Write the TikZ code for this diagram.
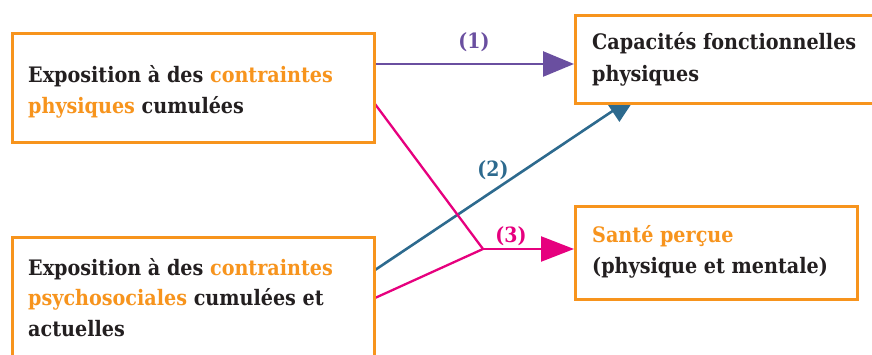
\documentclass[tikz,border=0pt]{standalone}
\usepackage{fontspec}
\setmainfont{DejaVu Serif Condensed}
\usetikzlibrary{arrows.meta}
\definecolor{orng}{HTML}{F7941D}
\definecolor{txt}{HTML}{231F20}
\definecolor{purp}{HTML}{6A4FA0}
\definecolor{blu}{HTML}{2D6A8E}
\definecolor{pnk}{HTML}{E6007E}
\tikzset{
  box/.style={draw=orng, line width=2.6pt, fill=white, anchor=north west, inner sep=0pt},
  line/.style={anchor=base west, inner sep=0pt, text=txt, font=\fontsize{21.3}{30}\selectfont\bfseries},
  lab/.style={inner sep=0pt, font=\fontsize{21}{24}\selectfont\bfseries},
  conn/.style={line width=2.6pt},
  head/.style={-{Triangle[length=31pt,width=25pt]}}
}
\begin{document}
\begin{tikzpicture}[x=1pt,y=-1pt]
\useasboundingbox (0,0) rectangle (872,355);
\clip (0,0) rectangle (872,355);
% connector end points
\coordinate (s1) at (375,64);
\coordinate (t1) at (574,64);
\coordinate (s2) at (375,270);
\coordinate (t2) at (638,94);
\coordinate (s3a) at (375,104);
\coordinate (s3b) at (375,298);
\coordinate (j3) at (483,249);
\coordinate (t3) at (574,249);
% connectors
\draw[conn, purp, head] (s1) -- (t1);
\draw[conn, blu, head] (s2) -- (t2);
\draw[conn, pnk, line width=2.3pt] (s3a) -- (j3);
\draw[conn, pnk, line width=2.3pt] (s3b) -- (j3);
\draw[conn, pnk, line width=2.3pt, -{Triangle[length=33pt,width=25pt]}] (j3) -- (t3);
% boxes
\node[box, minimum width=362pt, minimum height=109pt] (b1) at (11,32) {};
\node[box, minimum width=362pt, minimum height=150pt] (b2) at (11,236) {};
\node[box, minimum width=320pt, minimum height=88pt] (b3) at (574,14) {};
\node[box, minimum width=282pt, minimum height=93pt] (b4) at (574,205) {};
% texts
\node[line] (b1l1) at (28,83) {Exposition à des \textcolor{orng}{contraintes}};
\node[line] (b1l2) at (28,114) {\textcolor{orng}{physiques} cumulées};
\node[line] (b2l1) at (28,275) {Exposition à des \textcolor{orng}{contraintes}};
\node[line] (b2l2) at (28,305) {\textcolor{orng}{psychosociales} cumulées et};
\node[line] (b2l3) at (28,336) {actuelles};
\node[line] (b3l1) at (592,50) {Capacités fonctionnelles};
\node[line] (b3l2) at (592,82) {physiques};
\node[line] (b4l1) at (592,243) {\textcolor{orng}{Santé perçue}};
\node[line] (b4l2) at (592,273) {(physique et mentale)};
% labels
\node[lab, text=purp] (l1) at (474,42) {(1)};
\node[lab, text=blu] (l2) at (493,170) {(2)};
\node[lab, text=pnk] (l3) at (511,236) {(3)};
\end{tikzpicture}
\end{document}
